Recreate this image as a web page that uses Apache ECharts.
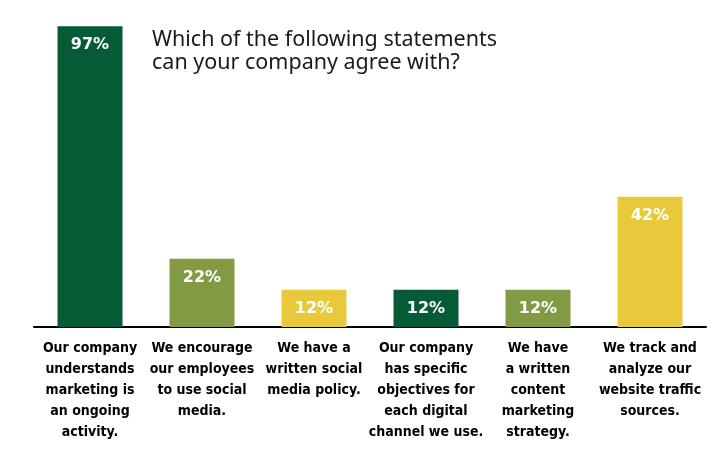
<!DOCTYPE html>
<html><head><meta charset="utf-8">
<script src="https://cdn.jsdelivr.net/npm/echarts@6/dist/echarts.min.js"></script>
<style>html,body{margin:0;padding:0;background:#fff}#c{width:721px;height:460px}</style>
</head><body><div id="c"></div>
<script>
const categories = [
  "Our company\nunderstands\nmarketing is\nan ongoing\nactivity.",
  "We encourage\nour employees\nto use social\nmedia.",
  "We have a\nwritten social\nmedia policy.",
  "Our company\nhas specific\nobjectives for\neach digital\nchannel we use.",
  "We have\na written\ncontent\nmarketing\nstrategy.",
  "We track and\nanalyze our\nwebsite traffic\nsources."
];
const values = [97, 22, 12, 12, 12, 42];
const barColors = ["#065b37", "#819a43", "#e9c93c", "#065b37", "#819a43", "#e9c93c"];
const titleText = "Which of the following statements\ncan your company agree with?";

const chart = echarts.init(document.getElementById('c'));
chart.setOption({
  animation: false,
  title: {
    text: titleText, left: 147, top: 23,
    textStyle: { fontFamily: "Noto Sans", fontWeight: "normal", fontSize: 21.5, lineHeight: 23, color: "#1a1a1a" }
  },
  grid: { left: 34, right: 15, top: 17, bottom: 133 },
  xAxis: {
    type: "category", data: categories,
    axisLine: { lineStyle: { color: "#000", width: 2 } },
    axisTick: { show: false },
    axisLabel: { interval: 0, margin: 11, fontFamily: "'DejaVu Sans Condensed', 'Liberation Sans Narrow', 'Roboto'", fontWeight: "bold", fontSize: 14, lineHeight: 21, color: "#000", align: "center" }
  },
  yAxis: { type: "value", min: 0, max: 100, show: false, splitLine: { show: false } },
  series: [{
    type: "bar", barWidth: 65,
    data: values.map((v, i) => ({ value: v, itemStyle: { color: barColors[i] } })),
    label: { show: true, position: "insideTop", distance: 11, formatter: "{c}%", color: "#fff", fontFamily: "'DejaVu Sans'", fontWeight: "bold", fontSize: 16 }
  }]
});
</script></body></html>
